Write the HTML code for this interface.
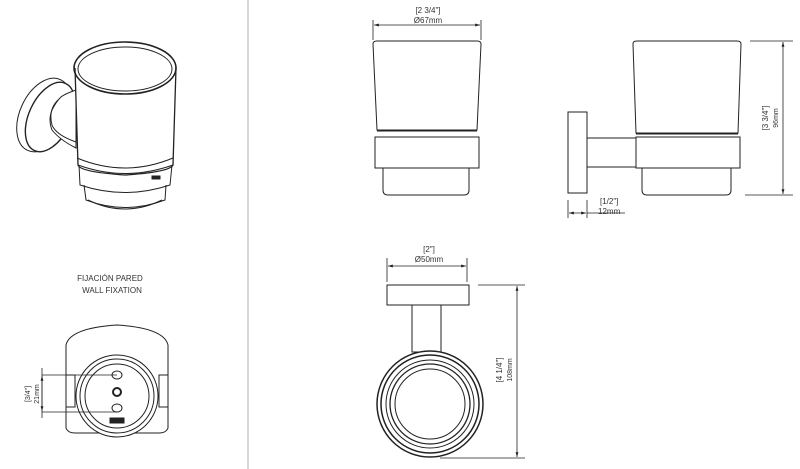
<!DOCTYPE html>
<html><head><meta charset="utf-8"><style>
html,body{margin:0;padding:0;background:#fff;width:800px;height:469px;overflow:hidden}
svg{display:block}
text{font-family:"Liberation Sans",sans-serif;fill:#333}
</style></head><body>
<svg width="800" height="469" viewBox="0 0 800 469" xmlns="http://www.w3.org/2000/svg">
<defs>
<marker id="a" viewBox="0 0 10 10" refX="10" refY="5" markerWidth="6" markerHeight="6" orient="auto-start-reverse"><path d="M0,2 L10,5 L0,8 z" fill="#222"/></marker>
</defs>
<line x1="248" y1="0" x2="248" y2="469" stroke="#ccc" stroke-width="1.5"/>
<g fill="none" stroke="#222" stroke-width="1">
<!-- iso view -->
<ellipse cx="44" cy="115" rx="24" ry="39" transform="rotate(25 44 115)"/>
<ellipse cx="50" cy="117" rx="21" ry="37" transform="rotate(25 50 117)" stroke-width="1.4" fill="#fff"/>
<path d="M60,98 Q62,95 76,90 L76,148 Q60,140 52,130 Q48,120 52,110 Q56,102 60,98 Z" fill="#fff"/>
<path d="M58,100 Q48,110 52,125 Q56,135 76,142"/>
<path d="M75,68 L78,165 Q80,172 125,175 Q170,172 173,165 L176,68" fill="#fff" stroke-width="1.3"/>
<ellipse cx="125" cy="68" rx="51" ry="26" stroke-width="1.6"/>
<ellipse cx="125" cy="69" rx="47" ry="22"/>
<path d="M77,158 Q125,178 173,158"/>
<path d="M78,165 Q125,182 173,165"/>
<path d="M79,165 L80,185 Q125,200 170,185 L172,165"/>
<path d="M84,185 L86,200 Q125,215 165,200 L166,185"/>
<path d="M88,200 Q125,218 162,200"/>
<rect x="152" y="176" width="8" height="3" fill="#222"/>
<!-- wall fixation -->
<path d="M66,375 L66,345 Q70,328 117,325 Q164,328 168,345 L168,375"/>
<path d="M66,407 L66,428 Q68,433 75,433 L159,433 Q166,433 168,428 L168,407"/>
<rect x="66" y="375" width="9" height="32"/>
<rect x="159" y="375" width="9" height="32"/>
<circle cx="117" cy="396" r="41" fill="#fff"/>
<circle cx="117" cy="396" r="37"/>
<circle cx="117" cy="396" r="32"/>
<ellipse cx="117" cy="375" rx="5" ry="4"/>
<ellipse cx="117" cy="408" rx="5" ry="4"/>
<circle cx="117" cy="392" r="4" stroke-width="2"/>
<rect x="110" y="418" width="14" height="5" fill="#222"/>
<line x1="42" y1="375" x2="117" y2="375" stroke-width="0.8"/>
<line x1="42" y1="412" x2="117" y2="412" stroke-width="0.8"/>
<line x1="42" y1="368" x2="42" y2="418" stroke-width="0.8"/>
<line x1="42" y1="376" x2="42" y2="411" marker-start="url(#a)" marker-end="url(#a)" stroke-width="0.8"/>
<!-- front view -->
<path d="M373,44 Q373,41 377,41 L477,41 Q481,41 481,44 L477,130 L377,130 Z"/>
<line x1="377" y1="131" x2="477" y2="131"/>
<rect x="375" y="137" width="104" height="31"/>
<path d="M383,168 L383,190 Q383,195 388,195 L464,195 Q469,195 469,190 L469,168"/>
<line x1="373" y1="20" x2="373" y2="40" stroke-width="0.8"/>
<line x1="481" y1="20" x2="481" y2="40" stroke-width="0.8"/>
<line x1="374" y1="25" x2="480" y2="25" marker-start="url(#a)" marker-end="url(#a)" stroke-width="0.8"/>
<!-- side view -->
<path d="M633,44 Q633,41 637,41 L737,41 Q741,41 741,44 L738,133 L636,133 Z"/>
<line x1="636" y1="134" x2="738" y2="134"/>
<rect x="636" y="137" width="104" height="31"/>
<path d="M642,168 L642,190 Q642,195 647,195 L726,195 Q731,195 731,190 L731,168"/>
<rect x="568" y="112" width="19" height="81"/>
<rect x="587" y="138" width="49" height="29"/>
<line x1="750" y1="41" x2="793" y2="41" stroke-width="0.8"/>
<line x1="745" y1="195" x2="793" y2="195" stroke-width="0.8"/>
<line x1="783" y1="42" x2="783" y2="194" marker-start="url(#a)" marker-end="url(#a)" stroke-width="0.8"/>
<line x1="568" y1="200" x2="568" y2="218" stroke-width="0.8"/>
<line x1="587" y1="200" x2="587" y2="218" stroke-width="0.8"/>
<line x1="569" y1="213" x2="586" y2="213" marker-start="url(#a)" marker-end="url(#a)" stroke-width="0.8"/>
<line x1="587" y1="213" x2="625" y2="213" stroke-width="0.8"/>
<!-- top view -->
<rect x="387" y="285" width="82" height="20"/>
<rect x="412" y="305" width="29" height="47"/>
<circle cx="430" cy="404" r="53" fill="#fff" stroke-width="1.5"/>
<circle cx="430" cy="404" r="49" stroke-width="1.5"/>
<circle cx="430" cy="404" r="44"/>
<circle cx="430" cy="404" r="40" stroke-width="1.3"/>
<circle cx="430" cy="404" r="35"/>
<line x1="387" y1="258" x2="387" y2="282" stroke-width="0.8"/>
<line x1="467" y1="258" x2="467" y2="282" stroke-width="0.8"/>
<line x1="388" y1="266" x2="466" y2="266" marker-start="url(#a)" marker-end="url(#a)" stroke-width="0.8"/>
<line x1="478" y1="285" x2="525" y2="285" stroke-width="0.8"/>
<line x1="440" y1="458" x2="525" y2="458" stroke-width="0.8"/>
<line x1="517" y1="286" x2="517" y2="457" marker-start="url(#a)" marker-end="url(#a)" stroke-width="0.8"/>
</g>
<g font-size="8">
<text x="110" y="281" text-anchor="middle">FIJACIÓN PARED</text>
<text x="112" y="293" text-anchor="middle">WALL FIXATION</text>
<text x="428" y="13" text-anchor="middle">[2 3/4"]</text>
<text x="428" y="23" text-anchor="middle">Ø67mm</text>
<text x="600" y="204">[1/2"]</text>
<text x="598" y="214">12mm</text>
<text x="429" y="252" text-anchor="middle">[2"]</text>
<text x="429" y="262" text-anchor="middle">Ø50mm</text>
<text transform="translate(768,118) rotate(-90)" text-anchor="middle">[3 3/4"]</text>
<text transform="translate(778,118) rotate(-90)" text-anchor="middle" font-size="7">96mm</text>
<text transform="translate(502,370) rotate(-90)" text-anchor="middle">[4 1/4"]</text>
<text transform="translate(512,370) rotate(-90)" text-anchor="middle" font-size="7">108mm</text>
<text transform="translate(30,394) rotate(-90)" text-anchor="middle" font-size="7">[3/4"]</text>
<text transform="translate(39,394) rotate(-90)" text-anchor="middle" font-size="7">21mm</text>
</g>
</svg>
</body></html>
